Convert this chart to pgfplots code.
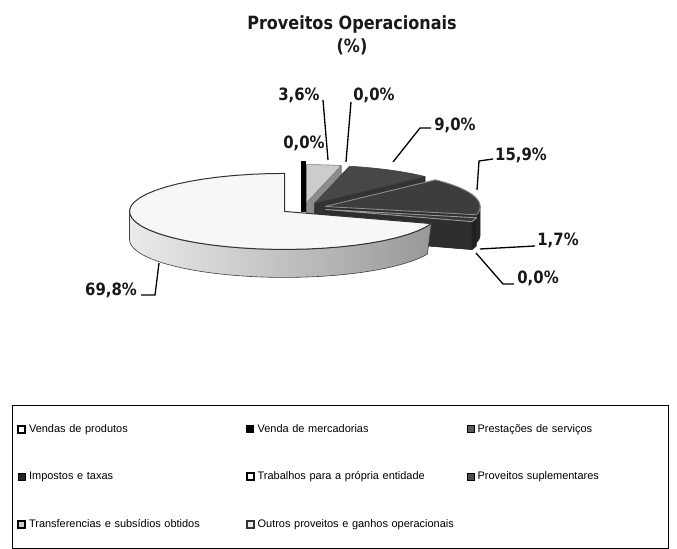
\documentclass[border=0pt]{standalone}
\usepackage{fontspec}
\setmainfont{Liberation Sans}
\newfontfamily\lblfont{DejaVu Sans}[FakeStretch=0.88]
\usepackage{pgfplots}
\usepackage{pgfplotstable}
\pgfplotsset{compat=1.18}
\colorlet{sideA}{white!92!black}
\colorlet{sideB}{black!40}
\tikzset{whiteside/.style={left color=sideA, right color=sideB},
  lbl/.style={font=\lblfont\bfseries\fontsize{17}{20}\selectfont, inner sep=0pt, text=black!90}}

% Proveitos operacionais (%), clockwise order from the end of the first slice
\pgfplotstableread{
id value
0 69.8
1 0.0
2 3.6
3 0.0
4 9.0
5 15.9
6 1.7
7 0.0
}\piedata

% pie geometry (axis units = px)
\def\cx{304}\def\cy{341}\def\rx{155}\def\ry{38}\def\dep{28}

% angles of every slice from the values
\pgfplotstablegetelem{0}{value}\of\piedata
\pgfmathsetmacro\topang{90+3.6*\pgfplotsretval}
\def\cum{0}
\pgfplotsforeachungrouped \i in {0,...,7}{%
  \pgfplotstablegetelem{\i}{value}\of\piedata
  \let\val\pgfplotsretval
  \pgfmathsetmacro\hiang{\topang-3.6*\cum}%
  \pgfmathsetmacro\loang{\hiang-3.6*\val}%
  \expandafter\xdef\csname hi\i\endcsname{\hiang}%
  \expandafter\xdef\csname lo\i\endcsname{\loang}%
  \pgfmathsetmacro\cum{\cum+\val}%
}

\newcommand\radialwall[3]{%
  \pgfmathsetmacro\pcpx{\pcvx+\rx*cos(#1)}%
  \pgfmathsetmacro\pcpy{\pcvy+\ry*sin(#1)}%
  \pgfmathsetmacro\pcvyd{\pcvy-\dep}%
  \pgfmathsetmacro\pcpyd{\pcpy-\dep}%
  \edef\pctmp{\noexpand\addplot[fill=#2,draw=#3,line width=0.6bp,line join=round,forget plot] coordinates {(\pcvx,\pcvy) (\pcpx,\pcpy) (\pcpx,\pcpyd) (\pcvx,\pcvyd) (\pcvx,\pcvy)};}%
  \pctmp
}
\newcommand\outerwall[2]{%
  \pgfmathsetmacro\pcdt{\pctb-(\pcta)}%
  \edef\pcT{((x<1.0001) ? ((\pcta)+x*\pcdt) : ((x<2.0001) ? ((\pctb)-(x-1)*\pcdt) : (\pcta)))}%
  \edef\pctmp{\noexpand\addplot[#1,draw=#2,line width=0.6bp,line join=round,forget plot,domain=0:2.025,samples=82] ({\pcvx+\rx*cos(\pcT)},{\pcvy+\ry*sin(\pcT)-((x<1.0001) ? 0 : ((x<2.0001) ? \dep : 0))});}%
  \pctmp
}
\newcommand\topface[3]{%
  \pgfmathsetmacro\pcd{(\pcb-(\pca))/40}%
  \pgfmathsetmacro\pcdmin{\pca-\pcd}%
  \pgfmathsetmacro\pcdmax{\pcb+\pcd}%
  \pgfmathsetmacro\pclo{\pca-\pcd/2}%
  \pgfmathsetmacro\pchi{\pcb+\pcd/2}%
  \edef\pctmp{\noexpand\addplot[fill=#1,draw=#2,line width=#3,line join=round,forget plot,domain=\pcdmin:\pcdmax,samples=43] ({(x<(\pclo)) ? \pcvx : ((x>(\pchi)) ? \pcvx : \pcvx+\rx*cos(x))},{(x<(\pclo)) ? \pcvy : ((x>(\pchi)) ? \pcvy : \pcvy+\ry*sin(x))});}%
  \pctmp
}
% #1 id, #2 top fill, #3 outer wall style, #4 radial wall fill, #5 side edge, #6 explode, #7 top edge, #8 top edge width
\newcommand\drawslice[8]{%
  \edef\pca{\csname lo#1\endcsname}%
  \edef\pcb{\csname hi#1\endcsname}%
  \pgfmathsetmacro\pcm{(\pca+\pcb)/2}%
  \pgfmathsetmacro\pcvx{\cx+#6*cos(\pcm)}%
  \pgfmathsetmacro\pcvy{\cy+#6*\ry/\rx*sin(\pcm)}%
  \pgfmathsetmacro\pcca{cos(\pca)}%
  \ifdim\pcca pt>0.01pt \radialwall{\pca}{#4}{#5}\fi
  \pgfmathsetmacro\pccb{cos(\pcb)}%
  \ifdim\pccb pt<-0.01pt \radialwall{\pcb}{#4}{#5}\fi
  \pgfmathsetmacro\pcta{\pca<0 ? \pca : max(\pca,180)}%
  \pgfmathsetmacro\pctb{\pca<0 ? min(\pcb,0) : min(\pcb,360)}%
  \pgfmathsetmacro\pcok{\pctb-(\pcta)>0.01 ? 1 : 0}%
  \ifdim\pcok pt>0.5pt \outerwall{#3}{#5}\fi
  \topface{#2}{#7}{#8}%
}

\begin{document}
\begin{tikzpicture}
\begin{axis}[
  scale only axis, width=677bp, height=549bp,
  xmin=0, xmax=677, ymin=0, ymax=549,
  hide axis, clip=false,
  legend columns=3,
  legend cell align=left,
  legend image code/.code={\draw[#1] (0bp,-3.5bp) rectangle (7bp,3.5bp);},
  legend style={
    at={(0.0177,0.2623)}, anchor=north west,
    draw=black, line width=1bp,
    font=\fontsize{11}{13}\selectfont,
    inner xsep=5bp, inner ysep=17bp,
    row sep=34bp,
    /tikz/every odd column/.append style={column sep=1bp},
    /tikz/column 2/.style={nodes={text width=215bp}},
    /tikz/column 4/.style={nodes={text width=207bp}},
    /tikz/column 6/.style={nodes={text width=184bp}},
  },
]
\addlegendimage{fill=white, draw=black, line width=1.6bp}
\addlegendentry{Vendas de produtos}
\addlegendimage{fill=black, draw=black}
\addlegendentry{Venda de mercadorias}
\addlegendimage{fill=black!65, draw=black}
\addlegendentry{Prestações de serviços}
\addlegendimage{fill=black!85, draw=black}
\addlegendentry{Impostos e taxas}
\addlegendimage{fill=white, draw=black, line width=1.6bp}
\addlegendentry{Trabalhos para a própria entidade}
\addlegendimage{fill=black!70, draw=black}
\addlegendentry{Proveitos suplementares}
\addlegendimage{fill=gray!40, draw=black, line width=1.6bp}
\addlegendentry{Transferencias e subsídios obtidos}
\addlegendimage{fill=gray!15, draw=black!80, line width=1.6bp}
\addlegendentry{Outros proveitos e ganhos operacionais}

% black bar of the zero slice (Venda de mercadorias)
\addplot[black, line width=5bp, forget plot] coordinates {(303,388) (303,337)};
% slices, back to front
\drawslice{2}{black!20}{fill=black!40}{black!45}{black!60}{22}{black!50}{0.6bp}
\drawslice{4}{black!72}{fill=black!85}{black!80}{black!85}{22}{black!75}{0.6bp}
\drawslice{5}{black!76}{fill=black!85}{black!82}{black!85}{22}{black!45}{0.9bp}
\drawslice{6}{black!78}{fill=black!88}{black!82}{black!85}{22}{black!40}{0.9bp}
\drawslice{0}{white!97!black}{whiteside}{black!45}{black!75}{24}{black!80}{1bp}

% leader lines
\addplot[black, line width=1.3bp, forget plot] coordinates {(323,449) (328,389)};
\addplot[black, line width=1.3bp, forget plot] coordinates {(351,447) (346,387)};
\addplot[black, line width=1.3bp, forget plot] coordinates {(431,421) (420,421) (393,387)};
\addplot[black, line width=1.3bp, forget plot] coordinates {(493,390) (479,388) (477,359)};
\addplot[black, line width=1.3bp, forget plot] coordinates {(535,303) (480,300)};
\addplot[black, line width=1.3bp, forget plot] coordinates {(514,265) (503,265) (476,296)};
\addplot[black, line width=1.3bp, forget plot] coordinates {(141,254) (155,254) (159,286)};

% labels
\node[lbl] at (axis cs:299,454) {3,6\%};
\node[lbl] at (axis cs:374,454) {0,0\%};
\node[lbl] at (axis cs:304,406) {0,0\%};
\node[lbl] at (axis cs:455,424) {9,0\%};
\node[lbl] at (axis cs:521,394) {15,9\%};
\node[lbl] at (axis cs:558,309) {1,7\%};
\node[lbl] at (axis cs:538,271) {0,0\%};
\node[lbl] at (axis cs:111,259) {69,8\%};

% title
\node[font=\lblfont\bfseries\fontsize{18.3}{21}\selectfont, text=black!90] at (axis cs:352,525) {Proveitos Operacionais};
\node[font=\lblfont\bfseries\fontsize{18.3}{21}\selectfont, text=black!90] at (axis cs:352,502) {(\%)};
\end{axis}
\pgfresetboundingbox
\path (current axis.south west) rectangle (current axis.north east);
\end{tikzpicture}
\end{document}
